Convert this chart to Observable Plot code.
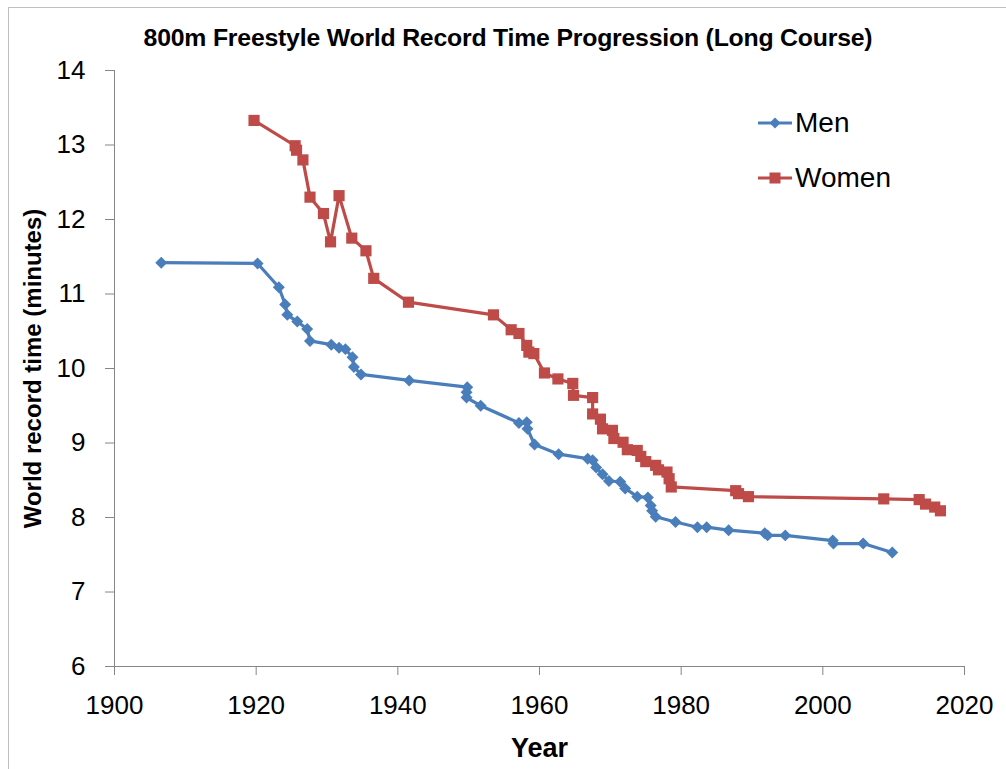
<!DOCTYPE html>
<html><head><meta charset="utf-8">
<script src="https://cdn.jsdelivr.net/npm/d3@7"></script>
<script src="https://cdn.jsdelivr.net/npm/@observablehq/plot@0.6"></script>
<style>
body{margin:0;background:#fff;font-family:"Liberation Sans",Arial,sans-serif;}
#wrap{position:relative;width:1006px;height:769px;overflow:hidden;background:#fff;}
#frame{position:absolute;left:8px;top:7px;width:1100px;height:900px;border:1px solid #bfbfbf;}
#title{position:absolute;left:0;top:23px;width:1016px;text-align:center;font-weight:bold;font-size:24.8px;line-height:30px;color:#000;letter-spacing:-0.2px;}
#chart{position:absolute;left:0;top:0;}
.leg{position:absolute;left:758px;height:30px;display:flex;align-items:center;font-size:28px;color:#000;}
.leg svg{margin-right:2px;}
</style>
</head><body>
<div id="wrap">
  <div id="frame"></div>
  <div id="title">800m Freestyle World Record Time Progression (Long Course)</div>
  <div id="chart"></div>
  <div id="legend"></div>
</div>
<script>
// ---- data ----
const menYears = [1906.6,1920.2,1923.2,1924.1,1924.4,1925.8,1927.2,1927.6,1930.6,1931.7,1932.6,1933.6,1933.8,1934.8,1941.6,1949.8,1949.7,1949.7,1951.7,1957.1,1958.2,1958.3,1959.3,1962.7,1966.8,1967.5,1968.0,1968.9,1969.8,1971.4,1972.1,1973.8,1975.3,1975.7,1975.9,1976.4,1979.2,1982.3,1983.6,1986.7,1991.8,1992.2,1994.7,2001.4,2001.5,2005.7,2009.8];
const menTimes = [11.42,11.41,11.09,10.86,10.72,10.63,10.53,10.37,10.32,10.28,10.26,10.15,10.02,9.92,9.84,9.75,9.68,9.61,9.50,9.27,9.28,9.19,8.98,8.85,8.79,8.77,8.67,8.58,8.49,8.48,8.39,8.28,8.27,8.16,8.09,8.01,7.94,7.87,7.87,7.83,7.79,7.76,7.76,7.69,7.65,7.65,7.53];
const womenYears = [1919.7,1925.5,1925.7,1926.6,1927.6,1929.5,1930.5,1931.7,1933.5,1935.5,1936.6,1941.5,1953.5,1956.0,1957.1,1958.2,1958.5,1959.2,1960.7,1962.6,1964.7,1964.8,1967.5,1967.5,1968.6,1968.9,1970.3,1970.5,1971.8,1972.4,1973.8,1974.3,1975.0,1976.4,1976.8,1978.0,1978.3,1978.6,1987.7,1988.1,1989.5,2008.6,2013.6,2014.5,2015.8,2016.6];
const womenTimes = [13.33,12.99,12.93,12.80,12.30,12.08,11.70,12.32,11.75,11.58,11.21,10.89,10.72,10.52,10.47,10.31,10.22,10.20,9.94,9.86,9.80,9.64,9.61,9.39,9.32,9.19,9.17,9.06,9.01,8.91,8.90,8.82,8.75,8.70,8.64,8.61,8.52,8.41,8.36,8.32,8.28,8.25,8.24,8.18,8.14,8.09];
const seriesNames = ["Men","Women"];
const seriesColors = ["#4A7EBB","#BE4B48"];
const xTicks = [1900,1920,1940,1960,1980,2000,2020];
const yTicks = [6,7,8,9,10,11,12,13,14];
const xDomain = [1900,2020];
const yDomain = [6,14];
const xLabel = "Year";
const yLabel = "World record time (minutes)";

const men = menYears.map((y,i)=>({year:y,time:menTimes[i]}));
const women = womenYears.map((y,i)=>({year:y,time:womenTimes[i]}));
const axisGray = "#868686";

const chart = Plot.plot({
  width: 1006,
  height: 769,
  marginTop: 70,
  marginBottom: 103,
  marginLeft: 114,
  marginRight: 42,
  style: {background: "transparent", fontFamily: "'Liberation Sans', Arial, sans-serif"},
  x: {domain: xDomain},
  y: {domain: yDomain},
  marks: [
    Plot.ruleX([xDomain[0]], {stroke: axisGray, strokeWidth: 1}),
    Plot.ruleY([yDomain[0]], {stroke: axisGray, strokeWidth: 1}),
    Plot.axisX({ticks: xTicks, tickFormat: d => String(d), tickSize: 9, tickPadding: 20, fontSize: 26, stroke: axisGray, label: null}),
    Plot.axisY({ticks: yTicks, tickFormat: d => String(d), tickSize: 9, tickPadding: 20, fontSize: 26, stroke: axisGray, label: null}),
    Plot.text([yLabel], {text: d => d, frameAnchor: "left", textAnchor: "middle", lineAnchor: "middle", dx: -81, dy: 0, rotate: -90, fontSize: 24, fontWeight: "bold", fill: "#000"}),
    Plot.text([xLabel], {text: d => d, frameAnchor: "bottom", textAnchor: "middle", lineAnchor: "middle", dy: 82, fontSize: 27, fontWeight: "bold", fill: "#000"}),
    Plot.line(men, {x: "year", y: "time", stroke: seriesColors[0], strokeWidth: 3.2}),
    Plot.dot(men, {x: "year", y: "time", symbol: "diamond2", r: 5.4, fill: seriesColors[0], stroke: "none"}),
    Plot.line(women, {x: "year", y: "time", stroke: seriesColors[1], strokeWidth: 3.2}),
    Plot.dot(women, {x: "year", y: "time", symbol: "square", r: 6.3, fill: seriesColors[1], stroke: "none"})
  ]
});
document.getElementById("chart").appendChild(chart);

// legend
const legend = document.getElementById("legend");
const legTops = [108, 163];
const symbols = ["diamond","square"];
seriesNames.forEach((name, i) => {
  const div = document.createElement("div");
  div.className = "leg";
  div.style.top = legTops[i] + "px";
  const c = seriesColors[i];
  const marker = symbols[i] === "diamond"
    ? `<polygon points="17,9.5 22.5,15 17,20.5 11.5,15" fill="${c}"/>`
    : `<rect x="11.5" y="9.5" width="11" height="11" fill="${c}"/>`;
  div.innerHTML = `<svg width="35" height="30"><line x1="0" x2="34" y1="15" y2="15" stroke="${c}" stroke-width="3"/>${marker}</svg><span>${name}</span>`;
  legend.appendChild(div);
});
</script>
</body></html>
